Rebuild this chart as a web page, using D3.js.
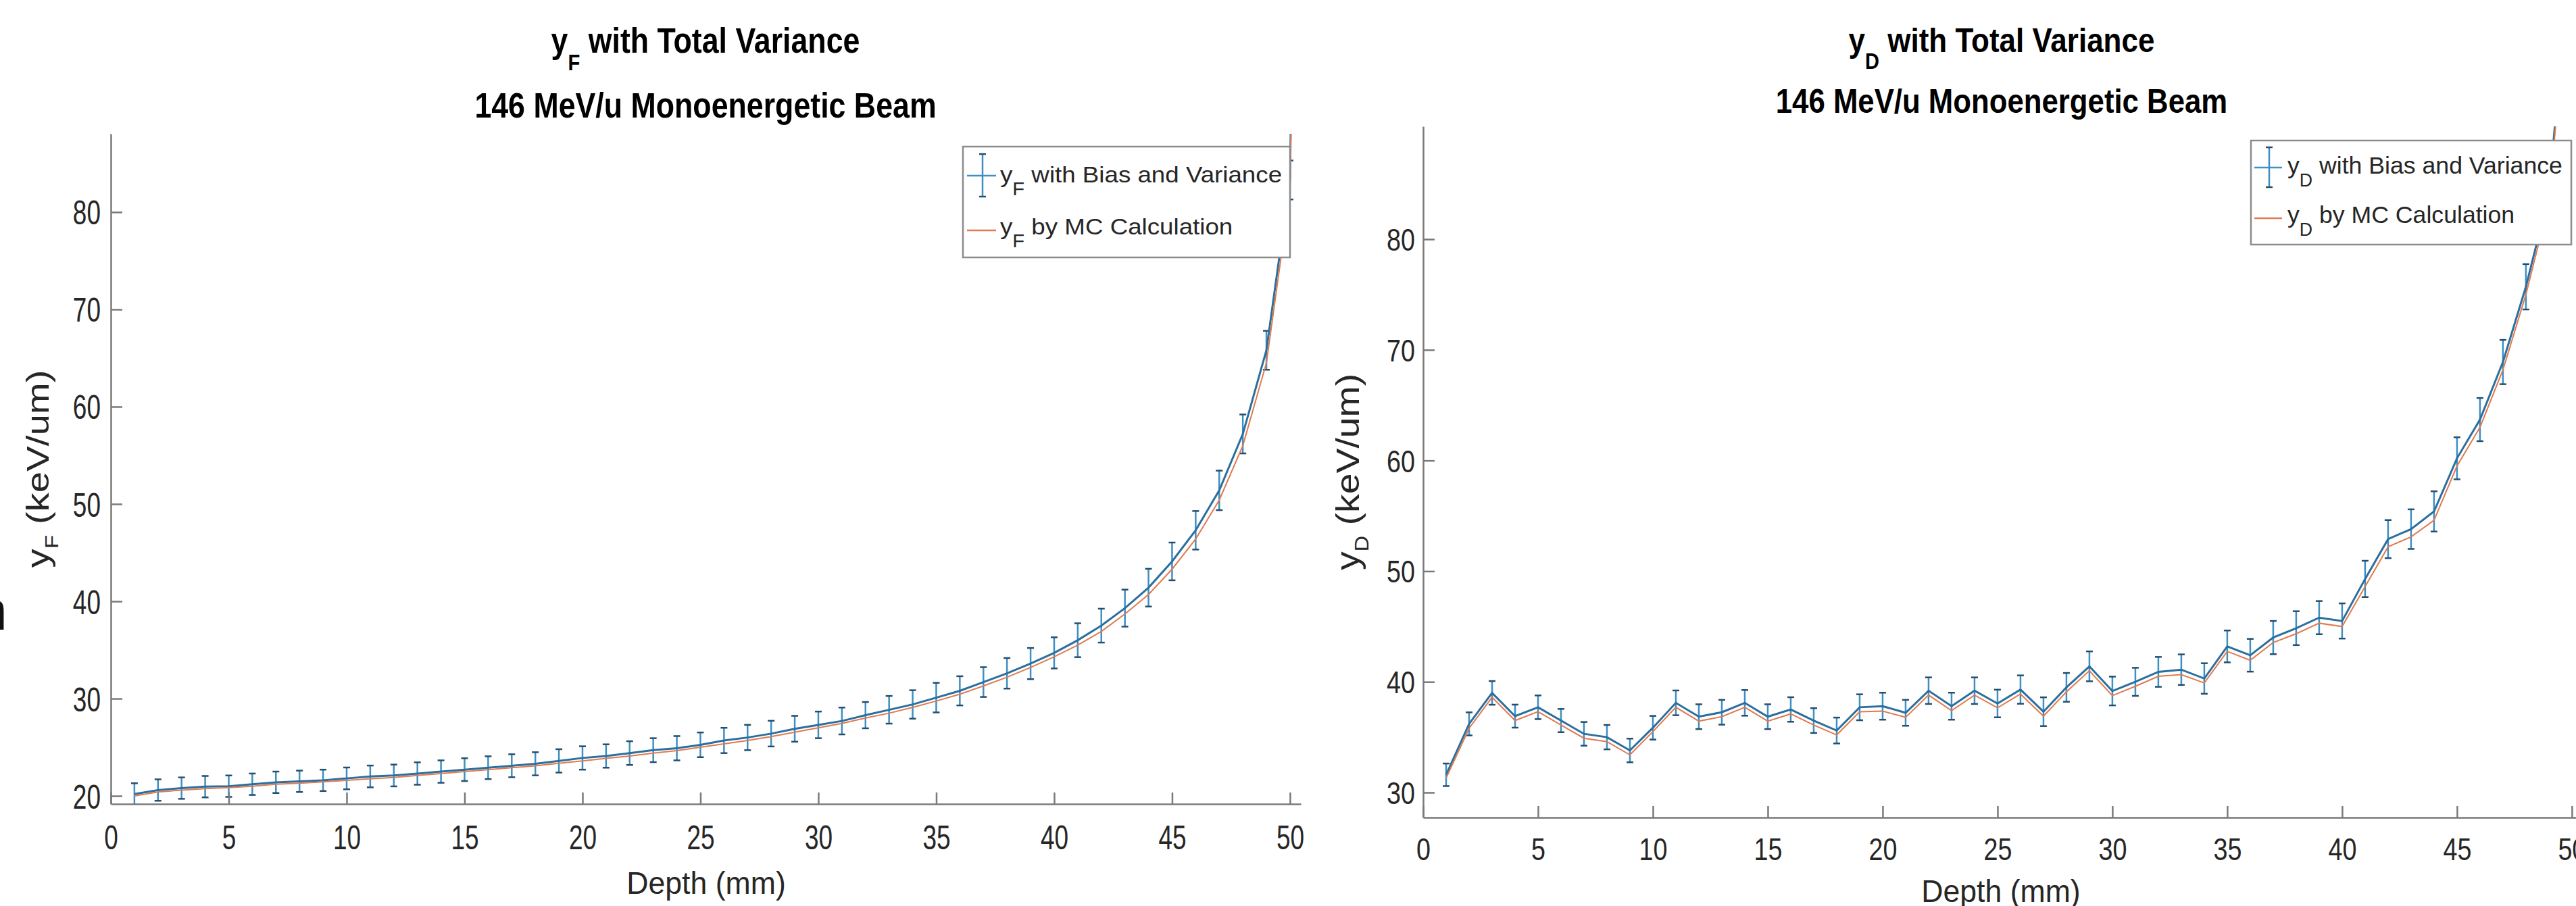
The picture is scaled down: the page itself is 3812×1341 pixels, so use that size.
<!DOCTYPE html>
<html><head><meta charset="utf-8">
<script src="https://cdn.jsdelivr.net/npm/d3@7"></script>
<style>html,body{margin:0;padding:0;background:#fff}svg{display:block}</style>
</head><body>
<svg id="chart" width="3812" height="1341"></svg>
<script>
// ---------------- data ----------------
const depthF = [1,2,3,4,5,6,7,8,9,10,11,12,13,14,15,16,17,18,19,20,21,22,23,24,25,26,27,28,29,30,31,32,33,34,35,36,37,38,39,40,41,42,43,44,45,46,47,48,49,50,50.46];
const yF = [20.2,20.6,20.8,20.95,21.0,21.2,21.4,21.5,21.6,21.8,22.0,22.1,22.3,22.5,22.7,22.9,23.1,23.3,23.6,23.9,24.1,24.4,24.7,24.9,25.25,25.7,26.0,26.4,26.9,27.3,27.7,28.3,28.85,29.4,30.1,30.8,31.7,32.6,33.6,34.7,36.0,37.5,39.3,41.4,44.1,47.3,51.4,57.2,65.8,83.3,160];
const yFErr = [1.1,1.1,1.1,1.1,1.1,1.1,1.1,1.1,1.1,1.12,1.12,1.12,1.15,1.15,1.17,1.17,1.18,1.19,1.2,1.2,1.2,1.22,1.23,1.25,1.27,1.3,1.3,1.32,1.33,1.37,1.38,1.35,1.42,1.46,1.52,1.5,1.53,1.57,1.6,1.6,1.74,1.74,1.9,1.94,1.94,1.98,2.03,2.0,2.0,2.0,2.0];
const yFMC = [20.0,20.4,20.6,20.75,20.85,21.0,21.2,21.3,21.45,21.6,21.75,21.9,22.1,22.3,22.5,22.7,22.9,23.1,23.35,23.6,23.85,24.1,24.4,24.65,25.0,25.35,25.7,26.1,26.55,27.0,27.45,28.0,28.5,29.1,29.75,30.45,31.3,32.2,33.2,34.3,35.5,36.9,38.7,40.7,43.3,46.4,50.4,56.0,64.5,82.0,160];

const depthD = [1,2,3,4,5,6,7,8,9,10,11,12,13,14,15,16,17,18,19,20,21,22,23,24,25,26,27,28,29,30,31,32,33,34,35,36,37,38,39,40,41,42,43,44,45,46,47,48,49,50];
const yD = [31.6,36.2,39.0,36.9,37.7,36.5,35.3,35.0,33.8,35.85,38.1,36.85,37.25,38.1,36.85,37.5,36.5,35.6,37.7,37.8,37.2,39.2,37.8,39.2,38.04,39.3,37.3,39.5,41.4,39.17,40.0,40.9,41.1,40.3,43.2,42.4,44.0,44.85,45.8,45.5,49.3,52.9,53.8,55.4,60.2,63.7,68.9,75.7,84.0,108.0];
const yDErr = [1.02,1.04,1.07,1.04,1.07,1.05,1.07,1.1,1.07,1.07,1.12,1.12,1.12,1.16,1.12,1.11,1.12,1.17,1.17,1.22,1.17,1.2,1.22,1.2,1.25,1.28,1.3,1.3,1.35,1.3,1.27,1.35,1.38,1.38,1.44,1.48,1.5,1.53,1.5,1.59,1.64,1.72,1.79,1.82,1.9,1.95,2.0,2.05,2.1,2.2];
const yDMC = [31.3,35.8,38.6,36.5,37.3,36.1,34.9,34.6,33.4,35.5,37.7,36.45,36.85,37.7,36.45,37.1,36.1,35.2,37.3,37.35,36.8,38.8,37.4,38.8,37.65,38.9,36.9,39.1,41.0,38.75,39.6,40.5,40.65,39.9,42.75,41.95,43.55,44.35,45.3,45.0,48.6,52.2,53.1,54.6,59.5,63.0,68.2,75.0,83.3,107.0];

const xTicks = [0,5,10,15,20,25,30,35,40,45,50];
const yFTicks = [20,30,40,50,60,70,80];
const yDTicks = [30,40,50,60,70,80];

const titleTop = " with Total Variance";
const titleSub = "146 MeV/u Monoenergetic Beam";
const xLabel = "Depth (mm)";
const yLabelRest = " (keV/um)";
const legendText1 = " with Bias and Variance";
const legendText2 = " by MC Calculation";

// ---------------- drawing ----------------
const FONT = "Arial, 'Liberation Sans', Helvetica, sans-serif";
const svg = d3.select("#chart");
svg.append("rect").attr("width", 3812).attr("height", 1341).attr("fill", "#fff");

const C_AXIS = "#7a7a7a", C_TEXT = "#262626", C_BLUE = "#2a6f9e", C_BAR = "#3d8fc4",
      C_CAP = "#244e6e", C_ORANGE = "#e07a50";

function rich(g, x, y, parts, o) {
  const tr = `translate(${x},${y})` + (o.rot ? ` rotate(${o.rot})` : "") + ` scale(${o.sx || 1},1)`;
  const t = g.append("text").attr("transform", tr)
    .attr("text-anchor", o.anchor || "start")
    .attr("font-size", o.size).attr("font-weight", o.weight || "normal")
    .attr("fill", o.fill || C_TEXT).style("font-family", FONT);
  let shift = 0;
  parts.forEach(p => {
    const ts = t.append("tspan").text(p.t);
    if (p.sub) { ts.attr("dy", o.subDy).attr("font-size", o.subSize); shift = o.subDy; }
    else if (shift) { ts.attr("dy", -shift); shift = 0; }
  });
  return t;
}

function panel(cfg, depth, vals, errs, mc, yTicks, sym) {
  const g = svg.append("g");
  const x = d3.scaleLinear().domain([0, cfg.xmax]).range([cfg.xl, cfg.xr]);
  const y = d3.scaleLinear().domain([cfg.ymin, cfg.ymax]).range([cfg.yb, cfg.yt]);

  const clipId = "clip" + sym;
  svg.append("clipPath").attr("id", clipId).append("rect")
    .attr("x", cfg.xl).attr("y", cfg.yt).attr("width", cfg.xr - cfg.xl).attr("height", cfg.yb - cfg.yt);

  const plot = g.append("g").attr("clip-path", `url(#${clipId})`);
  const pts = depth.map((d, i) => ({d, v: vals[i], e: errs[i], m: mc[i]}));

  // error bars
  const eb = plot.append("g");
  pts.forEach(p => {
    const xx = x(p.d), y1 = y(p.v + p.e), y2 = y(p.v - p.e);
    eb.append("line").attr("x1", xx).attr("x2", xx).attr("y1", y1).attr("y2", y2)
      .attr("stroke", C_BAR).attr("stroke-width", 2.5);
    [y1, y2].forEach(yy => eb.append("line").attr("x1", xx - 5).attr("x2", xx + 5).attr("y1", yy).attr("y2", yy)
      .attr("stroke", C_CAP).attr("stroke-width", 2.5));
  });
  plot.append("path").datum(pts)
    .attr("d", d3.line().x(p => x(p.d)).y(p => y(p.v)))
    .attr("fill", "none").attr("stroke", C_BLUE).attr("stroke-width", 3);
  plot.append("path").datum(pts)
    .attr("d", d3.line().x(p => x(p.d)).y(p => y(p.m)))
    .attr("fill", "none").attr("stroke", C_ORANGE).attr("stroke-width", 2);

  // axes
  const ax = g.append("g").attr("transform", `translate(0,${cfg.yb})`)
    .call(d3.axisBottom(x).tickValues(xTicks).tickSizeInner(-cfg.tick).tickSizeOuter(0).tickPadding(0));
  ax.selectAll("text").attr("y", null).attr("dy", null)
    .attr("transform", `translate(0,${cfg.xLabBase - cfg.yb}) scale(${cfg.tickSx},1)`)
    .attr("font-size", cfg.tickFont).style("font-family", FONT).attr("fill", C_TEXT);
  const ay = g.append("g").attr("transform", `translate(${cfg.xl},0)`)
    .call(d3.axisLeft(y).tickValues(yTicks).tickSizeInner(-cfg.tick).tickSizeOuter(0).tickPadding(0));
  ay.selectAll("text").attr("x", null).attr("dy", "0.36em")
    .attr("transform", `translate(${-cfg.yGap},0) scale(${cfg.tickSx},1)`)
    .attr("font-size", cfg.tickFont).style("font-family", FONT).attr("fill", C_TEXT);
  [ax, ay].forEach(a => {
    a.selectAll("path,line").attr("stroke", C_AXIS).attr("stroke-width", 2.5);
    a.attr("font-family", null).attr("font-size", null);
  });

  // titles
  const cx = cfg.titleCx;
  rich(g, cx, cfg.t1Base, [{t: "y"}, {t: sym, sub: true}, {t: titleTop}],
    {size: cfg.titleFont, weight: "bold", sx: cfg.t1Sx, anchor: "middle", subDy: cfg.tSubDy, subSize: cfg.tSubSize, fill: "#000"});
  rich(g, cx, cfg.t2Base, [{t: titleSub}],
    {size: cfg.titleFont, weight: "bold", sx: cfg.t2Sx, anchor: "middle", fill: "#000"});

  // axis labels
  rich(g, cfg.xLabCx, cfg.xLabBase2, [{t: xLabel}], {size: cfg.labFont, sx: cfg.xLabSx, anchor: "middle"});
  rich(g, cfg.yLabX, (cfg.yt + cfg.yb) / 2, [{t: "y"}, {t: sym, sub: true}, {t: yLabelRest}],
    {size: cfg.yLabFont, rot: -90, sx: cfg.yLabSx, anchor: "middle", subDy: cfg.yLabSubDy, subSize: cfg.yLabSubSize});

  // legend
  const L = cfg.leg;
  const lg = g.append("g");
  lg.append("rect").attr("x", L.x0).attr("y", L.y0).attr("width", L.x1 - L.x0).attr("height", L.y1 - L.y0)
    .attr("fill", "#fff").attr("stroke", "#8c8c8c").attr("stroke-width", 2.5);
  lg.append("line").attr("x1", L.ix0).attr("x2", L.ix1).attr("y1", L.r1Line).attr("y2", L.r1Line)
    .attr("stroke", C_BAR).attr("stroke-width", 2.5);
  lg.append("line").attr("x1", L.ebx).attr("x2", L.ebx).attr("y1", L.eby0).attr("y2", L.eby1)
    .attr("stroke", C_BAR).attr("stroke-width", 2.5);
  [L.eby0, L.eby1].forEach(yy => lg.append("line").attr("x1", L.ebx - 5).attr("x2", L.ebx + 5)
    .attr("y1", yy).attr("y2", yy).attr("stroke", C_CAP).attr("stroke-width", 2.5));
  lg.append("line").attr("x1", L.ix0).attr("x2", L.ix1).attr("y1", L.r2Line).attr("y2", L.r2Line)
    .attr("stroke", C_ORANGE).attr("stroke-width", 2.5);
  rich(lg, L.tx, L.r1Base, [{t: "y"}, {t: sym, sub: true}, {t: legendText1}],
    {size: L.font, sx: L.sx, subDy: L.subDy, subSize: L.subSize});
  rich(lg, L.tx, L.r2Base, [{t: "y"}, {t: sym, sub: true}, {t: legendText2}],
    {size: L.font, sx: L.sx, subDy: L.subDy, subSize: L.subSize});
}

const leftCfg = {
  xl: 164, xr: 1925, xmax: 50.46, yt: 198, yb: 1190, ymin: 19.17, ymax: 88.05,
  tick: 17, tickFont: 50, tickSx: 0.74, yGap: 15, xLabBase: 1257,
  titleCx: 1044, t1Base: 78, t2Base: 174, titleFont: 52, t1Sx: 0.86, t2Sx: 0.86, tSubDy: 26, tSubSize: 34,
  labFont: 47, xLabCx: 1045, xLabBase2: 1323, xLabSx: 0.95,
  yLabX: 72, yLabFont: 47, yLabSx: 1.2, yLabSubDy: 14, yLabSubSize: 28,
  leg: {x0: 1425, y0: 217, x1: 1909, y1: 381, ix0: 1431, ix1: 1474, ebx: 1454, eby0: 228, eby1: 291,
        r1Line: 260, r2Line: 341, tx: 1480, r1Base: 270, r2Base: 347, font: 34, sx: 1.08, subDy: 19, subSize: 27}
};
const rightCfg = {
  xl: 2106, xr: 3812, xmax: 50.18, yt: 187, yb: 1210, ymin: 27.74, ymax: 90.2,
  tick: 17, tickFont: 46, tickSx: 0.82, yGap: 12, xLabBase: 1273,
  titleCx: 2962, t1Base: 77, t2Base: 167, titleFont: 50, t1Sx: 0.88, t2Sx: 0.875, tSubDy: 25, tSubSize: 33,
  labFont: 46, xLabCx: 2961, xLabBase2: 1335, xLabSx: 0.97,
  yLabX: 2011, yLabFont: 49, yLabSx: 1.13, yLabSubDy: 14, yLabSubSize: 29,
  leg: {x0: 3331, y0: 208, x1: 3805, y1: 362, ix0: 3336, ix1: 3377, ebx: 3358, eby0: 218, eby1: 277,
        r1Line: 248, r2Line: 323, tx: 3385, r1Base: 257, r2Base: 330, font: 36, sx: 0.99, subDy: 19, subSize: 27}
};

panel(leftCfg, depthF, yF, yFErr, yFMC, yFTicks, "F");
panel(rightCfg, depthD, yD, yDErr, yDMC, yDTicks, "D");

// cropped glyph fragment visible at the far left edge of the reference image
svg.append("text").attr("transform", "translate(-26,932) scale(0.8,1)")
  .attr("font-size", 80).style("font-family", FONT).attr("fill", "#111").text("n");
</script>
</body></html>
